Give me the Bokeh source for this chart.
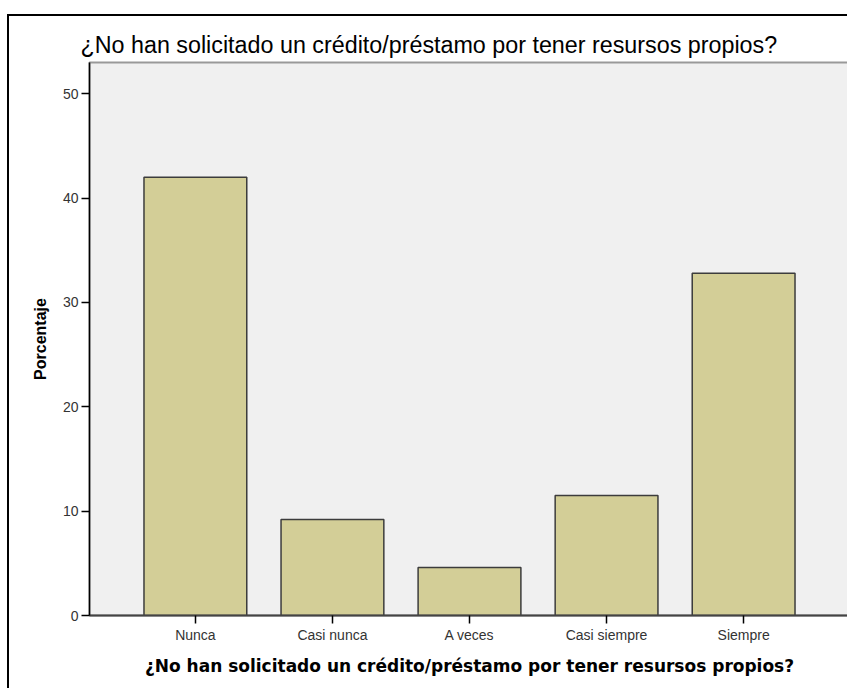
from bokeh.plotting import figure
from bokeh.models import FactorRange, Range1d, FixedTicker, ColumnDataSource
from bokeh.embed import file_html
from bokeh.resources import INLINE

categories = ["Nunca", "Casi nunca", "A veces", "Casi siempre", "Siempre"]
percentages = [42.0, 9.2, 4.6, 11.5, 32.8]
y_ticks = [0, 10, 20, 30, 40, 50]
title_text = "¿No han solicitado un crédito/préstamo por tener resursos propios?"
x_label = "¿No han solicitado un crédito/préstamo por tener resursos propios?"
y_label = "Porcentaje"

src = ColumnDataSource(dict(cat=categories, pct=percentages))

p = figure(
    width=840, height=674,
    x_range=FactorRange(factors=categories, range_padding=0.109),
    y_range=Range1d(0, 53),
    output_backend="svg", toolbar_location=None,
    min_border_left=80, min_border_right=0, min_border_top=46, min_border_bottom=75,
    title=title_text,
)
p.styles = {"border-top": "2px solid black", "border-left": "2px solid black",
            "margin-top": "14px", "margin-left": "7px"}

p.vbar(x="cat", top="pct", width=0.75, source=src,
       fill_color="#D3CE97", line_color="#3c3c3c", line_width=1.5)

p.title.align = "left"
p.title.offset = -9
p.title.text_font = "Liberation Sans"
p.title.text_font_size = "23.3px"
p.title.text_font_style = "normal"
p.title.text_color = "black"

p.background_fill_color = "#F0F0F0"
p.border_fill_color = "white"
p.outline_line_color = "#999999"
p.outline_line_width = 2
p.xgrid.grid_line_color = None
p.ygrid.grid_line_color = None

p.yaxis.ticker = FixedTicker(ticks=y_ticks)
p.yaxis.axis_label = y_label
p.yaxis.axis_label_text_font = "Liberation Sans"
p.yaxis.axis_label_text_font_style = "bold"
p.yaxis.axis_label_text_font_size = "16px"
p.yaxis.axis_label_text_color = "black"
p.yaxis.axis_label_standoff = 11
p.yaxis.major_label_text_font = "Liberation Sans"
p.yaxis.major_label_text_font_size = "14px"
p.yaxis.major_label_text_color = "#333333"
p.yaxis.major_label_standoff = 3
p.yaxis.axis_line_color = "black"
p.yaxis.axis_line_width = 1.5
p.yaxis.major_tick_line_color = "black"
p.yaxis.major_tick_line_width = 1.5
p.yaxis.major_tick_out = 8
p.yaxis.major_tick_in = 0
p.yaxis.minor_tick_line_color = None

p.xaxis.axis_label = x_label
p.xaxis.axis_label_text_font = "DejaVu Sans"
p.xaxis.axis_label_text_font_style = "bold"
p.xaxis.axis_label_text_font_size = "17px"
p.xaxis.axis_label_text_color = "black"
p.xaxis.axis_label_standoff = 10
p.xaxis.major_label_text_font = "Liberation Sans"
p.xaxis.major_label_text_font_size = "14px"
p.xaxis.major_label_text_color = "#333333"
p.xaxis.major_label_standoff = 3
p.xaxis.axis_line_color = "#444444"
p.xaxis.axis_line_width = 2
p.xaxis.major_tick_line_color = "black"
p.xaxis.major_tick_line_width = 1.5
p.xaxis.major_tick_out = 8
p.xaxis.major_tick_in = 0

open("out.html", "w").write(file_html(p, INLINE))
